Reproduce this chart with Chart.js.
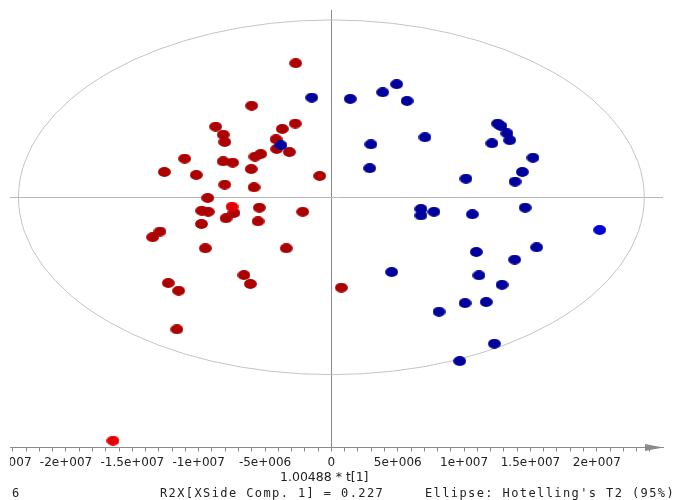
<!DOCTYPE html>
<html><head><meta charset="utf-8">
<script src="https://cdn.jsdelivr.net/npm/chart.js@4.4.0/dist/chart.umd.min.js"></script>
<style>
html,body{margin:0;padding:0;background:#fff;overflow:hidden;width:675px;height:500px;}
#clip{position:absolute;left:10px;top:0;width:665px;height:500px;overflow:hidden;}
#c{position:absolute;left:-60px;top:0;display:block;}
.t{position:absolute;white-space:nowrap;font-family:"DejaVu Sans";font-size:12.5px;color:#222;line-height:14px;}
.m{position:absolute;white-space:nowrap;font-family:"DejaVu Sans Mono";font-size:12px;letter-spacing:1.4px;color:#222;line-height:14px;}
</style></head>
<body>
<div id="clip"><canvas id="c" width="725" height="500"></canvas></div>
<div class="t" style="left:280px;top:470px">1.00488 * t[1]</div>
<div class="m" style="left:12px;top:486px">6</div>
<div class="m" style="left:160px;top:486px">R2X[XSide Comp. 1] = 0.227</div>
<div class="m" style="left:425px;top:486px">Ellipse: Hotelling's T2 (95%)</div>
<script>
// Scores in units of 1e6 (t[1] horizontal, t[2] vertical)
const class1X = [-2.69,-6.01,-8.72,-3.70,-2.72,-8.15,-8.04,-4.17,-4.12,-3.17,-5.33,-5.76,-11.06,-8.15,-7.44,-12.59,-10.18,-6.04,-0.88,-8.04,-5.83,-9.32,-5.43,-9.77,-9.28,-7.34,-2.16,-7.94,-9.79,-5.53,-12.92,-13.47,-9.50,-3.40,-6.59,-6.11,-12.29,-11.51,0.75,-11.64];
const class1Y = [10.10,6.90,5.32,5.15,5.55,4.72,4.17,4.37,3.64,3.41,3.26,3.06,2.91,2.71,2.61,1.91,1.68,2.13,1.61,0.95,0.75,-0.05,-0.78,-1.01,-1.09,-1.18,-1.09,-1.58,-2.01,-1.81,-2.58,-3.01,-3.84,-3.84,-5.86,-6.53,-6.46,-7.04,-6.81,-9.95];
const class1SelX = [-7.49,-16.46];
const class1SelY = [-0.71,-18.34];
const class2X = [-1.48,1.42,3.87,4.92,5.70,-3.80,2.98,7.05,2.89,12.53,12.78,13.23,13.44,12.10,15.19,14.39,13.84,10.14,6.75,6.75,7.73,10.62,14.60,15.47,10.92,13.81,4.54,11.12,12.86,10.07,11.67,8.11,12.28,9.67];
const class2Y = [7.51,7.41,7.91,8.52,7.26,3.92,3.99,4.52,2.19,5.55,5.37,4.82,4.30,4.07,2.98,1.91,1.18,1.40,-0.88,-1.37,-1.09,-1.28,-0.78,-3.77,-4.12,-4.70,-5.63,-5.88,-6.59,-7.97,-7.89,-8.62,-11.03,-12.34];
const class2SelX = [20.22];
const class2SelY = [-2.46];
// Hotelling's T2 (95%) ellipse half-axes, same units
const ellipseT1 = 23.58;
const ellipseT2 = 13.36;
// x-axis tick labels
const xMajorTicks = [-25,-20,-15,-10,-5,0,5,10,15,20];
const xMajorLabels = ['-2.5e+007','-2e+007','-1.5e+007','-1e+007','-5e+006','0','5e+006','1e+007','1.5e+007','2e+007'];

const xTickValues = [];
for (let v = -25; v <= 24; v++) xTickValues.push(v);

function pts(xs, ys){ return xs.map((x,i)=>({x:x, y:ys[i]})); }
function dot(color){
  const c = document.createElement('canvas');
  c.width = 13; c.height = 10;
  const g = c.getContext('2d');
  g.fillStyle = color;
  g.beginPath(); g.ellipse(6.5,5,6.4,4.9,0,0,Math.PI*2); g.fill();
  return c;
}
const GRAY = '#8a8a8a';
function ds(label, xs, ys, color){
  return {label, data: pts(xs,ys), pointStyle: dot(color), pointRadius: 6, pointHoverRadius: 6,
          backgroundColor: color, borderColor: color, showLine:false};
}
const overlay = {
  id:'overlay',
  beforeDatasetsDraw(chart){
    const {ctx, scales:{x,y}} = chart;
    const cx = x.getPixelForValue(0), cy = y.getPixelForValue(0);
    const rx = x.getPixelForValue(ellipseT1) - cx;
    const ry = cy - y.getPixelForValue(ellipseT2);
    ctx.save();
    ctx.strokeStyle = '#c4c4c4'; ctx.lineWidth = 1;
    ctx.beginPath(); ctx.ellipse(cx, cy, rx, ry, 0, 0, Math.PI*2); ctx.stroke();
    ctx.restore();
  },
  afterDraw(chart){
    const {ctx, chartArea:a} = chart;
    const yb = Math.round(a.bottom) - 0.5;
    ctx.save();
    ctx.fillStyle = GRAY;
    ctx.beginPath();
    ctx.moveTo(a.right, yb);
    ctx.lineTo(a.right-18, yb-3.5);
    ctx.lineTo(a.right-18, yb+3.5);
    ctx.closePath(); ctx.fill();
    ctx.restore();
  }
};
new Chart(document.getElementById('c'), {
  type:'scatter',
  data:{datasets:[
    ds('Class 1 (marked)', class1SelX, class1SelY, '#e40000'),
    ds('Class 2 (marked)', class2SelX, class2SelY, '#0000d4'),
    ds('Class 2', class2X, class2Y, '#00009c'),
    ds('Class 1', class1X, class1Y, '#ad0000')
  ]},
  options:{
    responsive:false, animation:false, devicePixelRatio:1,
    layout:{padding:{left:60, right:12, top:10, bottom:0}},
    plugins:{legend:{display:false}, tooltip:{enabled:false}},
    scales:{
      x:{type:'linear', min:-24.22, max:24.99,
        afterBuildTicks: s => { s.ticks = xTickValues.map(v=>({value:v})); },
        afterFit: s => { s.height = 52.5; },
        ticks:{autoSkip:false, maxRotation:0, minRotation:0, padding:4, color:'#222',
          font:{family:'DejaVu Sans', size:12},
          callback: v => { const i = xMajorTicks.indexOf(Math.round(v)); return (i>=0 && Math.abs(v-Math.round(v))<1e-9) ? xMajorLabels[i] : ''; }},
        grid:{drawOnChartArea:true, drawTicks:true, tickLength:4, tickColor:GRAY, lineWidth:1,
          color: c => (c.tick && c.tick.value===0) ? GRAY : 'rgba(0,0,0,0)'},
        border:{display:true, color:GRAY, width:1}
      },
      y:{type:'linear', min:-18.85, max:14.11,
        afterBuildTicks: s => { s.ticks = [{value:0}]; },
        afterFit: s => { s.width = 0; },
        ticks:{display:false},
        grid:{drawTicks:false, color: c => (c.tick && c.tick.value===0) ? '#b8b8b8' : 'rgba(0,0,0,0)'},
        border:{display:false}
      }
    }
  },
  plugins:[overlay]
});
</script>
</body></html>
